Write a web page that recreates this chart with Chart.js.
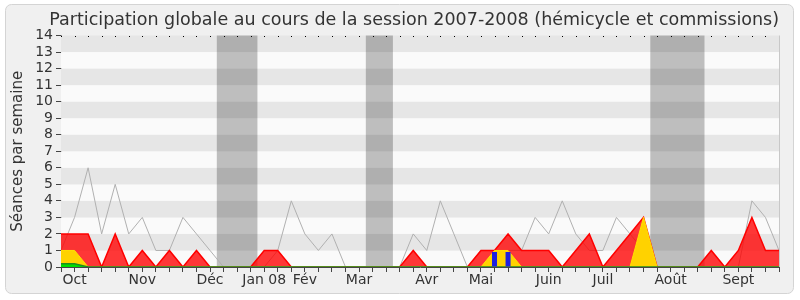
<!DOCTYPE html>
<html>
<head>
<meta charset="utf-8">
<script src="https://cdn.jsdelivr.net/npm/chart.js@4/dist/chart.umd.min.js"></script>
<style>
html,body{margin:0;padding:0;background:#fff;}
#wrap{width:800px;height:300px;}
</style>
</head>
<body>
<div id="wrap"><canvas id="c" width="800" height="300"></canvas></div>
<script>
// ---- data (one point per week, 54 weeks: Sept 2007 -> Sept 2008) ----
const tickWeeks  = [1, 6, 11, 15, 18, 22, 27, 31, 36, 40, 45, 50];
const tickLabels = ['Oct', 'Nov', 'Déc', 'Jan 08', 'Fév', 'Mar', 'Avr', 'Mai', 'Juin', 'Juil', 'Août', 'Sept'];
const vacationWeeks = [12, 13, 14, 23, 24, 44, 45, 46, 47];

const medianValues   = [1,3,6,2,5,2,3,1,1,3,2,1,0,0,0,0,1,4,2,1,2,0,0,0,0,0,2,1,4,2,0,1,1,1,1,3,2,4,2,1,1,3,2,1,0,0,0,0,0,0,0,4,3,1];
const presenceValues = [2,2,2,0,2,0,1,0,1,0,1,0,0,0,0,1,1,0,0,0,0,0,0,0,0,0,1,0,0,0,0,1,1,2,1,1,1,0,1,2,0,1,2,3,0,0,0,0,1,0,1,3,1,1];
const interventionValues = [1,1,0,0,0,0,0,0,0,0,0,0,0,0,0,0,0,0,0,0,0,0,0,0,0,0,0,0,0,0,0,0,1,1,0,0,0,0,0,0,0,0,0,3,0,0,0,0,0,0,0,0,0,0];
const amendementValues   = [0.2,0.2,0,0,0,0,0,0,0,0,0,0,0,0,0,0,0,0,0,0,0,0,0,0,0,0,0,0,0,0,0,0,0,0,0,0,0,0,0,0,0,0,0,0,0,0,0,0,0,0,0,0,0,0];
const questionWeeks  = [32, 33];
const questionValue  = 0.9;
const yMax = 14;

// ---- derived tables ----
const N = medianValues.length;
const labels = Array.from({length: N}, (_, i) => {
  const k = tickWeeks.indexOf(i);
  return k >= 0 ? tickLabels[k] : '';
});
const questionData = labels.map((_, i) => questionWeeks.includes(i) ? questionValue : null);

const FONT = 'DejaVu Sans';
const TXT = '#333333';

const framePlugin = {
  id: 'frame',
  beforeDraw(chart) {
    const ctx = chart.ctx;
    ctx.save();
    ctx.fillStyle = '#ffffff';
    ctx.fillRect(0, 0, chart.width, chart.height);
    const x = 5.5, y = 4.5, w = 788, h = 289, r = 6;
    ctx.beginPath();
    ctx.moveTo(x + r, y);
    ctx.arcTo(x + w, y, x + w, y + h, r);
    ctx.arcTo(x + w, y + h, x, y + h, r);
    ctx.arcTo(x, y + h, x, y, r);
    ctx.arcTo(x, y, x + w, y, r);
    ctx.closePath();
    ctx.fillStyle = '#f0f0f0';
    ctx.fill();
    ctx.strokeStyle = '#d4d4d4';
    ctx.lineWidth = 1;
    ctx.stroke();
    ctx.restore();
  },
  beforeDatasetsDraw(chart) {
    const ctx = chart.ctx, a = chart.chartArea, ys = chart.scales.y, xs = chart.scales.x;
    ctx.save();
    for (let v = 0; v < yMax; v++) {
      const y0 = ys.getPixelForValue(v + 1), y1 = ys.getPixelForValue(v);
      ctx.fillStyle = (v % 2 === 1) ? '#e6e6e6' : '#fafafa';
      ctx.fillRect(a.left, y0, a.right - a.left, y1 - y0);
    }
    // vacation bands: contiguous runs of vacation weeks
    ctx.fillStyle = 'rgba(0,0,0,0.24)';
    let i = 0;
    const sorted = vacationWeeks.slice().sort((p, q) => p - q);
    while (i < sorted.length) {
      let j = i;
      while (j + 1 < sorted.length && sorted[j + 1] === sorted[j] + 1) j++;
      const x0 = xs.getPixelForValue(sorted[i] - 0.5), x1 = xs.getPixelForValue(sorted[j] + 0.5);
      ctx.fillRect(x0, a.top, x1 - x0, a.bottom - a.top);
      i = j + 1;
    }
    ctx.restore();
  },
  afterDatasetsDraw(chart) {
    const ctx = chart.ctx, a = chart.chartArea, xs = chart.scales.x;
    ctx.save();
    ctx.fillStyle = '#000000';
    for (let i = 0; i < N; i++) {
      const px = Math.round(xs.getPixelForValue(i));
      ctx.fillRect(px, Math.round(a.top), 1, 1);
    }
    ctx.strokeStyle = '#c8c8c8';
    ctx.lineWidth = 1;
    ctx.beginPath();
    ctx.moveTo(Math.round(a.right) + 0.5, a.top);
    ctx.lineTo(Math.round(a.right) + 0.5, a.bottom);
    ctx.stroke();
    ctx.restore();
  }
};

new Chart(document.getElementById('c'), {
  type: 'line',
  data: {
    labels: labels,
    datasets: [
      { label: 'Médiane', data: medianValues, borderColor: '#b0b0b0', borderWidth: 1,
        pointRadius: 0, tension: 0, fill: false, order: 5 },
      { label: 'Présences', data: presenceValues, borderColor: '#ff0000', borderWidth: 1.5,
        backgroundColor: 'rgba(255,0,0,0.78)', pointRadius: 0, tension: 0, fill: 'origin', order: 4 },
      { label: 'Interventions', data: interventionValues, borderColor: '#ffe000', borderWidth: 1,
        backgroundColor: '#ffd200', pointRadius: 0, tension: 0, fill: 'origin', order: 3 },
      { label: 'Amendements', data: amendementValues, borderColor: '#1e8c1e', borderWidth: 1.5,
        backgroundColor: '#00e000', pointRadius: 0, tension: 0, fill: 'origin', order: 2 },
      { type: 'bar', label: 'Questions', data: questionData, backgroundColor: '#1f1fe0',
        borderWidth: 0, barPercentage: 0.37, categoryPercentage: 1, grouped: false, order: 1 }
    ]
  },
  options: {
    responsive: false,
    animation: false,
    layout: { padding: { left: 6, right: 21, top: 5, bottom: 5 } },
    plugins: {
      legend: { display: false },
      tooltip: { enabled: false },
      title: {
        display: true,
        text: 'Participation globale au cours de la session 2007-2008 (hémicycle et commissions)',
        align: 'end',
        color: TXT,
        font: { family: FONT, size: 17.5, weight: 'normal', lineHeight: 1.2 },
        padding: { top: 5, bottom: 4.5 }
      }
    },
    scales: {
      x: {
        type: 'category',
        offset: false,
        grid: { drawOnChartArea: false, drawTicks: true, tickLength: 5, color: '#444444', offset: false },
        border: { display: true, color: '#444444' },
        ticks: { autoSkip: false, maxRotation: 0, minRotation: 0, padding: 0, color: TXT,
                 font: { family: FONT, size: 14 } },
        afterFit(s) { s.height = 28; }
      },
      y: {
        min: 0, max: yMax,
        grid: { drawOnChartArea: false, drawTicks: true, tickLength: 5, color: '#444444' },
        border: { display: true, color: '#444444' },
        ticks: { stepSize: 1, autoSkip: false, padding: 3, color: TXT, font: { family: FONT, size: 14 } },
        title: { display: true, text: 'Séances par semaine', color: TXT,
                 font: { family: FONT, size: 15 }, padding: { top: 3, bottom: 0 } },
        afterFit(s) { s.width = 55; }
      }
    }
  },
  plugins: [framePlugin]
});
</script>
</body>
</html>
